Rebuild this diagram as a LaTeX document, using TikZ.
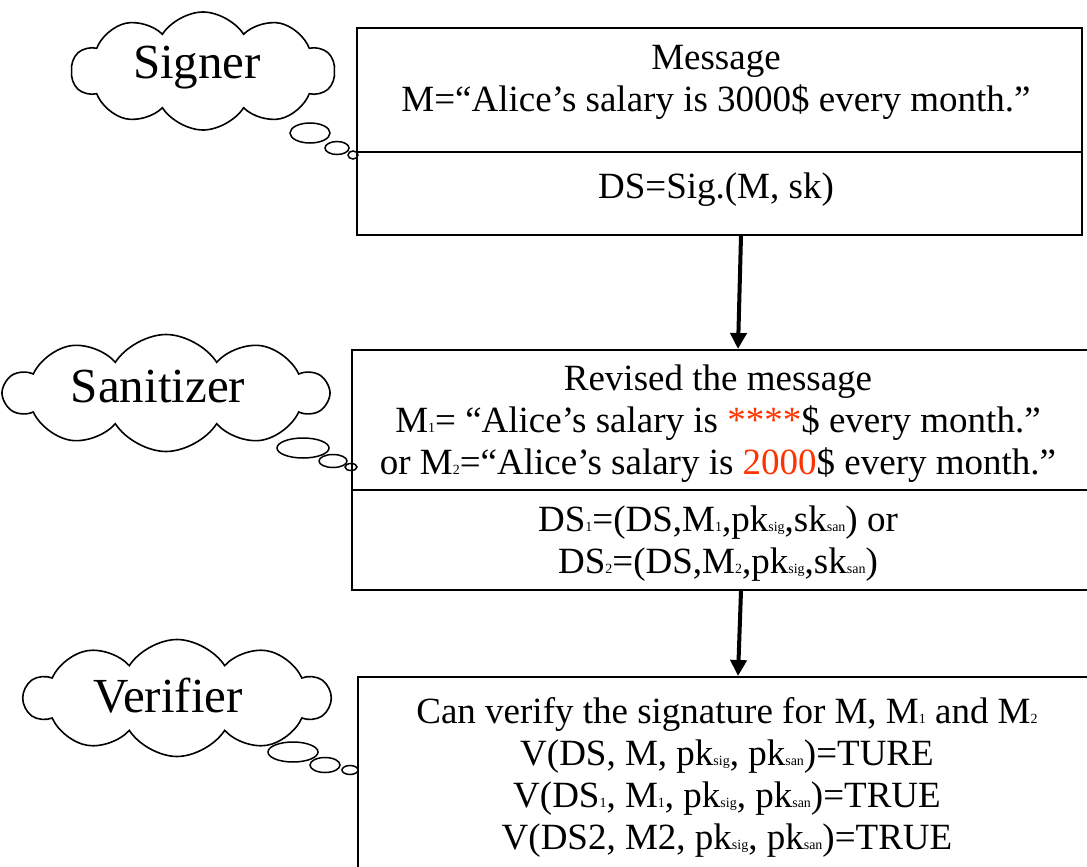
\documentclass[tikz,border=0pt]{standalone}
\usepackage{fontspec}
\setmainfont{Liberation Serif}
\usetikzlibrary{shapes.symbols,shapes.geometric,arrows.meta}
\definecolor{hot}{RGB}{255,51,0}
\newcommand\lo[1]{{\fontsize{14}{14}\selectfont #1}}
\begin{document}
\begin{tikzpicture}[x=1pt,y=-1pt,
  box/.style={draw,line width=2pt,inner sep=0pt},
  txt/.style={font=\fontsize{37}{42}\selectfont, align=center, inner sep=0pt},
  cl/.style={cloud, cloud ignores aspect, draw, line width=1.6pt, cloud puffs=10, cloud puff arc=115, inner sep=0pt},
  who/.style={font=\fontsize{49}{49}\selectfont, inner sep=0pt},
  bub/.style={ellipse, draw, line width=1.5pt, inner sep=0pt},
  flow/.style={line width=4pt, -{Triangle[length=16pt,width=16pt]}}]
\useasboundingbox (0,0) rectangle (1087,867);
\clip (0,0) rectangle (1087,867);
% boxes
\node[box, minimum width=725pt, minimum height=124pt] (b1t) at (719.5,90) {};
\node[box, minimum width=725pt, minimum height=83pt] (b1b) at (719.5,193.5) {};
\node[box, minimum width=738pt, minimum height=140pt] (b2t) at (721,420) {};
\node[box, minimum width=738pt, minimum height=100pt] (b2b) at (721,540) {};
\node[box, minimum width=737pt, minimum height=203pt] (b3) at (726.5,778.5) {};
% texts
\node[txt] (t1) at (716,82) {Message\\M=“Alice’s salary is 3000\$ every month.”};
\node[txt] (t2) at (716,190) {DS=Sig.(M, sk)};
\node[txt] (t3) at (718,424) {Revised the message\\M\lo{1}= “Alice’s salary is \textcolor{hot}{****}\$ every month.”\\or M\lo{2}=“Alice’s salary is \textcolor{hot}{2000}\$ every month.”};
\node[txt] (t4) at (718,544) {DS\lo{1}=(DS,M\lo{1},pk\lo{sig},sk\lo{san}) or\\DS\lo{2}=(DS,M\lo{2},pk\lo{sig},sk\lo{san})};
\node[txt] (t5) at (727,777) {Can verify the signature for M, M\lo{1} and M\lo{2}\\V(DS, M, pk\lo{sig}, pk\lo{san})=TURE\\V(DS\lo{1}, M\lo{1}, pk\lo{sig}, pk\lo{san})=TRUE\\V(DS2, M2, pk\lo{sig}, pk\lo{san})=TRUE};
% arrows
\draw[flow] ([xshift=21.5pt]b1b.south) -- ([xshift=17pt]b2t.north);
\draw[flow] ([xshift=20pt]b2b.south) -- ([xshift=11.5pt]b3.north);
% clouds
\node[cl, minimum width=263pt, minimum height=118pt] (c1) at (203,71) {};
\node[who] (w1) at (197,68) {Signer};
\node[cl, minimum width=323pt, minimum height=117pt] (c2) at (166,393) {};
\node[who] (w2) at (158,387) {Sanitizer};
\node[cl, minimum width=305pt, minimum height=117pt] (c3) at (177,698) {};
\node[who] (w3) at (168,696) {Verifier};
% bubbles
\node[bub, minimum width=40pt, minimum height=20pt] (s1) at (310,133) {};
\node[bub, minimum width=24pt, minimum height=13pt] (s2) at (337,148) {};
\node[bub, minimum width=10pt, minimum height=8pt] (s3) at (353,155) {};
\node[bub, minimum width=52pt, minimum height=20pt] (z1) at (303,448) {};
\node[bub, minimum width=28pt, minimum height=13pt] (z2) at (333,461) {};
\node[bub, minimum width=12pt, minimum height=7pt] (z3) at (351,467) {};
\node[bub, minimum width=50pt, minimum height=20pt] (v1) at (293,752) {};
\node[bub, minimum width=30pt, minimum height=15pt] (v2) at (325,765) {};
\node[bub, minimum width=16pt, minimum height=9pt] (v3) at (350,770) {};
\end{tikzpicture}
\end{document}
